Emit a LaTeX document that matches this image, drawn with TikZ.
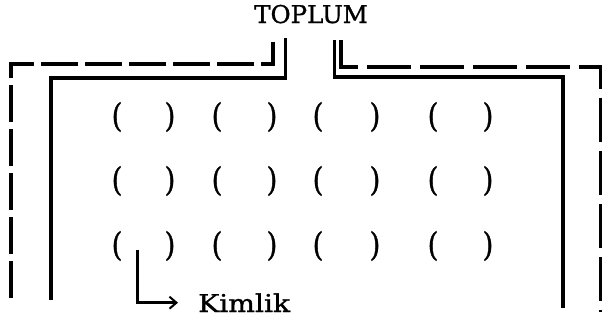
\documentclass[tikz,border=0pt]{standalone}
\usepackage{fontspec}
\setmainfont{DejaVu Serif}
\newfontfamily\heavyserif{DejaVu Serif}[FakeBold=1.2]
\usetikzlibrary{arrows.meta}
\begin{document}
\begin{tikzpicture}[x=1pt,y=-1pt,
  wall/.style={line width=3.4pt,line cap=butt,line join=miter},
  outer/.style={line width=3.2pt,dash pattern=on 37pt off 7pt},
  paren/.style={inner sep=0pt,font=\heavyserif\fontsize{27}{30}\selectfont},
  lbl/.style={inner sep=0pt,font=\heavyserif\fontsize{24.5}{28}\selectfont}]
\useasboundingbox (0,0) rectangle (602,322);
% title
\node[lbl,anchor=base] (title) at (311,23) {TOPLUM};
% outer dashed frame
\draw[outer] (11,298) -- (11,64) -- (273,64) -- (273,42);
\draw[outer,dash pattern=on 44pt off 9pt] (341,40) -- (341,67) -- (601,67) -- (601,312);
% inner solid frame
\draw[wall] (51,300) -- (51,78) -- (285.5,78) -- (285.5,38);
\draw[wall] (334.5,40) -- (334.5,77) -- (563,77) -- (563,308);
% brackets
\foreach \r/\y in {1/117,2/181,3/246}{
  \foreach \c/\xl/\xr in {1/117/170,2/217/272,3/318/375,4/433/488}{
    \node[paren] (l\r\c) at (\xl,\y) {\scalebox{1}[1.2]{(}};
    \node[paren] (r\r\c) at (\xr,\y) {\scalebox{1}[1.2]{)}};
  }
}
% identity arrow
\coordinate (kstart) at (137,250);
\node[lbl,anchor=base west] (kim) at (198,312) {\scalebox{1.15}[1]{Kimlik}};
\draw[line width=3pt,-{Straight Barb[length=7pt,width=12pt,line width=2pt]}]
  (kstart) |- ([xshift=-20pt]kim.west);
\end{tikzpicture}
\end{document}
